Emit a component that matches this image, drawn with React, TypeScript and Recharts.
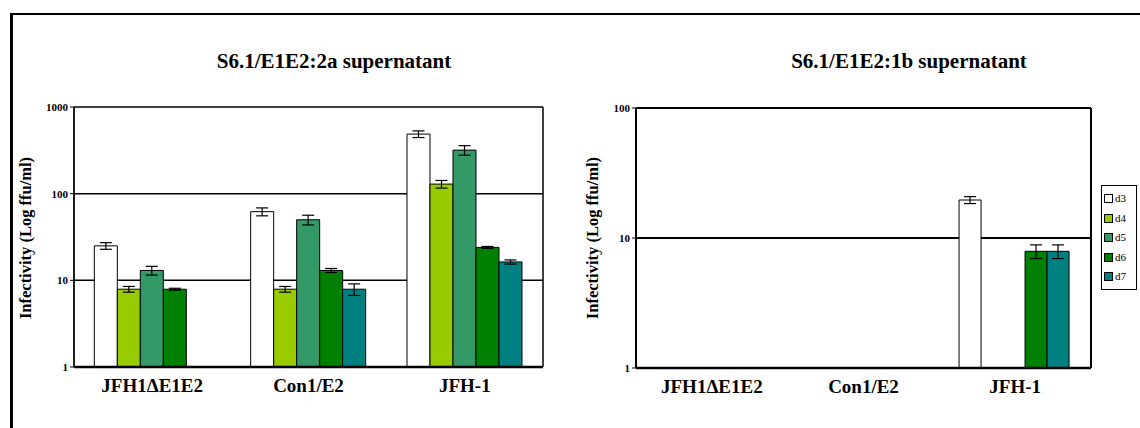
import React from "react";
import {
  BarChart,
  Bar,
  XAxis,
  YAxis,
  CartesianGrid,
  ErrorBar,
} from "recharts";

const categories = ["JFH1\u0394E1E2", "Con1/E2", "JFH-1"];
const days = ["d3", "d4", "d5", "d6", "d7"];
const dayColors = ["#ffffff", "#99cc00", "#339966", "#008000", "#008080"];

// S6.1/E1E2:2a supernatant
const a2d3 = [25, 62, 487];
const a2d4 = [7.9, 7.9, 129];
const a2d5 = [13, 50, 318];
const a2d6 = [7.9, 13, 24];
const a2d7 = [null, 7.9, 16.3];
const a2d3Err = [2.2, 6.5, 43];
const a2d4Err = [0.6, 0.6, 13];
const a2d5Err = [1.5, 6.4, 40];
const a2d6Err = [0.2, 0.7, 0.6];
const a2d7Err = [null, 1.2, 0.9];
const a2Ticks = [1, 10, 100, 1000];

// S6.1/E1E2:1b supernatant
const b1d3 = [null, null, 19.6];
const b1d4 = [null, null, null];
const b1d5 = [null, null, null];
const b1d6 = [null, null, 7.9];
const b1d7 = [null, null, 7.9];
const b1d3Err = [null, null, 1.2];
const b1d4Err = [null, null, null];
const b1d5Err = [null, null, null];
const b1d6Err = [null, null, 0.95];
const b1d7Err = [null, null, 0.95];
const b1Ticks = [1, 10, 100];

const build = (vals: (number | null)[][], errs: (number | null)[][]) =>
  categories.map((name, i) => {
    const row: Record<string, any> = { name };
    days.forEach((d, k) => {
      row[d] = vals[k][i];
      row[d + "e"] = errs[k][i];
    });
    return row;
  });

const data2a = build(
  [a2d3, a2d4, a2d5, a2d6, a2d7],
  [a2d3Err, a2d4Err, a2d5Err, a2d6Err, a2d7Err]
);
const data1b = build(
  [b1d3, b1d4, b1d5, b1d6, b1d7],
  [b1d3Err, b1d4Err, b1d5Err, b1d6Err, b1d7Err]
);

const serif = "'Liberation Serif', 'DejaVu Serif', serif";

const LegendBox = () => (
  <div
    style={{
      position: "absolute",
      left: 1101,
      top: 185,
      width: 30,
      height: 97,
      border: "1.5px solid #000",
      background: "#fff",
      padding: "3px 2px",
      fontFamily: serif,
      fontSize: 11,
      lineHeight: "19.5px",
    }}
  >
    {days.map((d, k) => (
      <div key={d} style={{ display: "flex", alignItems: "center" }}>
        <span
          style={{
            display: "inline-block",
            width: 7,
            height: 7,
            background: dayColors[k],
            border: "1px solid #000",
            marginRight: 2,
          }}
        />
        {d}
      </div>
    ))}
  </div>
);

const boxSides = ({ offset }: any) => [offset.left, offset.left + offset.width];

const Panel = ({
  data,
  ticks,
  domainMax,
  width,
  margin,
  yWidth,
  boxWidth,
}: {
  data: any[];
  ticks: number[];
  domainMax: number;
  width: number;
  margin: any;
  yWidth: number;
  boxWidth: number;
}) => (
  <BarChart
    width={width}
    height={428}
    data={data}
    margin={margin}
    barCategoryGap="13%"
    barGap={0}
  >
    <CartesianGrid
      stroke="#000"
      strokeWidth={boxWidth}
      verticalCoordinatesGenerator={boxSides}
    />
    <XAxis
      dataKey="name"
      height={30}
      tickLine={false}
      axisLine={{ stroke: "#000", strokeWidth: 2.5 }}
      tick={{ fill: "#000", fontSize: 19, fontWeight: 700, fontFamily: serif }}
      dy={4}
    />
    <YAxis
      scale="log"
      domain={[1, domainMax]}
      ticks={ticks}
      allowDataOverflow
      width={yWidth}
      tickSize={4}
      tickLine={{ stroke: "#000" }}
      axisLine={{ stroke: "#000" }}
      tick={{ fill: "#000", fontSize: 11, fontWeight: 700, fontFamily: serif }}
    />
    {days.map((d, k) => (
      <Bar
        key={d}
        dataKey={d}
        name={d}
        fill={dayColors[k]}
        stroke="#000"
        strokeWidth={1}
        isAnimationActive={false}
      >
        <ErrorBar dataKey={d + "e"} width={6} stroke="#000" strokeWidth={1.2} />
      </Bar>
    ))}
  </BarChart>
);

const YTitle = ({ x, y }: { x: number; y: number }) => (
  <text
    x={x}
    y={y}
    transform={`rotate(-90 ${x} ${y})`}
    textAnchor="middle"
    fontFamily={serif}
    fontWeight={700}
    fontSize={16.5}
    fill="#000"
  >
    Infectivity (Log ffu/ml)
  </text>
);

export default function App() {
  return (
    <div
      style={{
        position: "absolute",
        left: 0,
        top: 0,
        width: 1140,
        height: 428,
        background: "#fff",
        overflow: "hidden",
      }}
    >
      {/* figure frame */}
      <div
        style={{
          position: "absolute",
          left: 10,
          top: 13,
          width: 1128,
          height: 430,
          borderTop: "2.5px solid #000",
          borderLeft: "3px solid #000",
          borderRight: "1px solid #999",
        }}
      />
      <div style={{ position: "absolute", left: 0, top: 0 }}>
        <Panel
          data={data2a}
          ticks={a2Ticks}
          domainMax={1000}
          width={560}
          margin={{ top: 107, right: 17, bottom: 31, left: 30 }}
          yWidth={44}
          boxWidth={1.5}
        />
      </div>
      <div style={{ position: "absolute", left: 560, top: 0 }}>
        <Panel
          data={data1b}
          ticks={b1Ticks}
          domainMax={100}
          width={580}
          margin={{ top: 108, right: 49, bottom: 30, left: 36 }}
          yWidth={40}
          boxWidth={2}
        />
      </div>
      <LegendBox />
      <svg
        width={1140}
        height={428}
        style={{ position: "absolute", left: 0, top: 0, pointerEvents: "none" }}
      >
        <text
          x={334}
          y={68}
          textAnchor="middle"
          fontFamily={serif}
          fontWeight={700}
          fontSize={21}
          fill="#000"
        >
          S6.1/E1E2:2a supernatant
        </text>
        <text
          x={909}
          y={68}
          textAnchor="middle"
          fontFamily={serif}
          fontWeight={700}
          fontSize={21}
          fill="#000"
        >
          S6.1/E1E2:1b supernatant
        </text>
        <YTitle x={31} y={238} />
        <YTitle x={598} y={238} />
      </svg>
    </div>
  );
}
